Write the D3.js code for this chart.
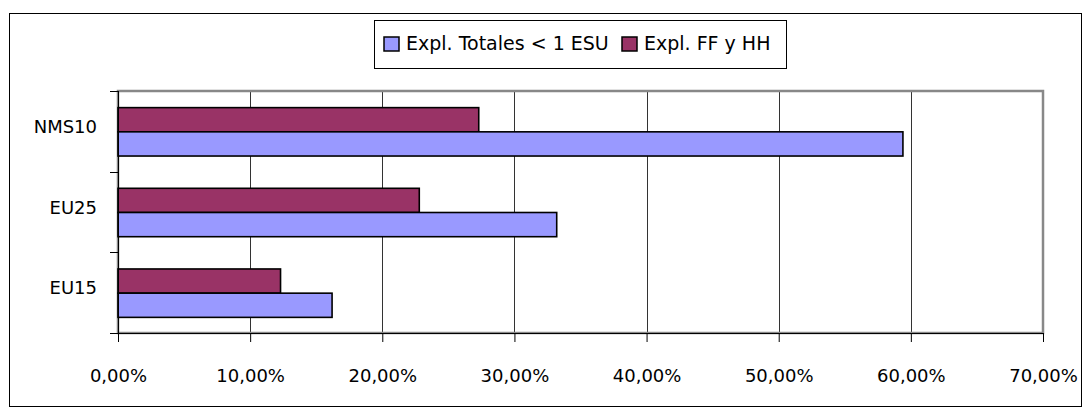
<!DOCTYPE html>
<html>
<head>
<meta charset="utf-8">
<script src="https://cdn.jsdelivr.net/npm/d3@7"></script>
<style>
  body { margin: 0; background: #fff; }
  text { font-family: "DejaVu Sans", sans-serif; font-size: 18px; fill: #000; }
</style>
</head>
<body>
<svg id="chart" width="1090" height="419"></svg>
<script>
// datos
var categories = ["NMS10", "EU25", "EU15"];
var series = ["Expl. FF y HH", "Expl. Totales < 1 ESU"];
var legendOrder = ["Expl. Totales < 1 ESU", "Expl. FF y HH"];
var ffhh = [0.273, 0.228, 0.123];
var totales = [0.594, 0.332, 0.162];
var xTicks = [0, 0.1, 0.2, 0.3, 0.4, 0.5, 0.6, 0.7];
var colors = { "Expl. Totales < 1 ESU": "#9999FF", "Expl. FF y HH": "#993366" };

var svg = d3.select("#chart");

// marco exterior
svg.append("rect")
  .attr("x", 9.5).attr("y", 13.5)
  .attr("width", 1072).attr("height", 393)
  .attr("fill", "#fff").attr("stroke", "#000");

var pLeft = 118, pRight = 1043, pTop = 91, pBottom = 333;

var x = d3.scaleLinear().domain([0, 0.7]).range([pLeft, pRight]);
var y = d3.scaleBand().domain(categories).range([pTop, pBottom]);
var inner = d3.scaleBand().domain(series)
  .range([0, y.bandwidth() * 0.6]);
var offset = y.bandwidth() * 0.2 + 0.5;

// rejilla
svg.append("g")
  .selectAll("line")
  .data(xTicks.slice(1, -1))
  .enter()
  .append("line")
  .attr("x1", (d) => Math.round(x(d)) + 0.5)
  .attr("x2", (d) => Math.round(x(d)) + 0.5)
  .attr("y1", pTop)
  .attr("y2", pBottom)
  .attr("stroke", "#333");

// borde del area de trazado
svg.append("rect")
  .attr("x", pLeft).attr("y", pTop)
  .attr("width", pRight - pLeft).attr("height", pBottom - pTop)
  .attr("fill", "none").attr("stroke", "#888").attr("stroke-width", 2.5);

// barras
var rows = categories.map((c, i) => ({ cat: c, values: [
  { s: "Expl. FF y HH", v: ffhh[i] },
  { s: "Expl. Totales < 1 ESU", v: totales[i] }
] }));

var groups = svg.append("g")
  .selectAll("g")
  .data(rows)
  .enter()
  .append("g")
  .attr("transform", (d) => "translate(0," + (y(d.cat) + offset) + ")");

groups.selectAll("rect")
  .data((d) => d.values)
  .enter()
  .append("rect")
  .attr("x", x(0))
  .attr("y", (d) => inner(d.s))
  .attr("width", (d) => x(d.v) - x(0))
  .attr("height", inner.bandwidth())
  .attr("fill", (d) => colors[d.s])
  .attr("stroke", "#000")
  .attr("stroke-width", 1.6);

// eje x
var xAxis = svg.append("g")
  .attr("transform", "translate(0," + pBottom + ")")
  .call(d3.axisBottom(x).tickValues(xTicks).tickSize(9).tickPadding(27)
    .tickFormat((d) => d3.format(".2f")(d * 100).replace(".", ",") + "%"));
xAxis.select(".domain").attr("stroke", "#000");
xAxis.selectAll("text").style("font-size", "18px").attr("fill", "#000");

// eje y
var yAxis = svg.append("g")
  .attr("transform", "translate(" + pLeft + ",0)")
  .call(d3.axisLeft(y).tickSize(0).tickPadding(21));
yAxis.select(".domain").attr("stroke", "#000").attr("d", "M0.5," + pTop + "V" + (pBottom + 1));
yAxis.selectAll("text").style("font-size", "18px").attr("fill", "#000").attr("dy", "0.1em");

// marcas de categoria
svg.append("g")
  .selectAll("line")
  .data(categories.map((c) => y(c)).concat([pBottom]))
  .enter()
  .append("line")
  .attr("x1", pLeft - 8).attr("x2", pLeft)
  .attr("y1", (d) => Math.round(d) + 0.5).attr("y2", (d) => Math.round(d) + 0.5)
  .attr("stroke", "#000");

// leyenda
var legend = svg.append("g");
legend.append("rect")
  .attr("x", 374.5).attr("y", 20.5)
  .attr("width", 412).attr("height", 48)
  .attr("fill", "#fff").attr("stroke", "#000");

var legendX = [384, 622];
var items = legend.selectAll("g.item")
  .data(legendOrder)
  .enter()
  .append("g")
  .attr("class", "item")
  .attr("transform", (d, i) => "translate(" + legendX[i] + ",37)");
items.append("rect")
  .attr("width", 15).attr("height", 14)
  .attr("fill", (d) => colors[d])
  .attr("stroke", "#000").attr("stroke-width", 1.5);
items.append("text")
  .attr("x", 22).attr("y", 13)
  .style("font-size", "19px")
  .text((d) => d);
</script>
</body>
</html>
